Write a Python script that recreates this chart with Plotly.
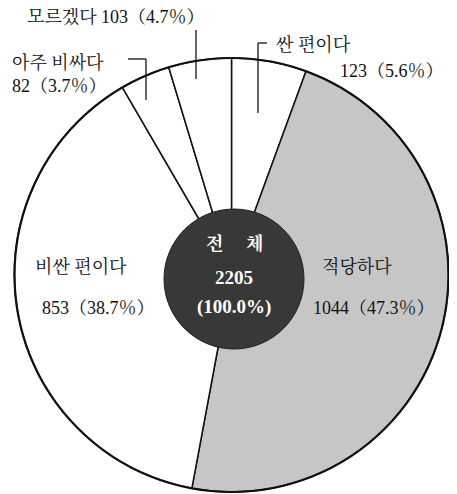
import plotly.graph_objects as go

# Data
categories = ["싼 편이다", "적당하다", "비싼 편이다", "아주 비싸다", "모르겠다"]
counts = [123, 1044, 853, 82, 103]
percents = [5.6, 47.3, 38.7, 3.7, 4.7]
total = 2205
total_pct = 100.0
slice_colors = ["#ffffff", "#c6c6c6", "#ffffff", "#ffffff", "#ffffff"]

# the page body has an 8px margin; work in reference pixel coords and shift
OFF = 8
W, H = 457 - OFF, 494 - OFF
FONT = "Liberation Serif, Noto Serif CJK KR, Noto Sans CJK KR, serif"


def px(x):
    return (x - OFF) / W


def py(y):
    return 1 - (y - OFF) / H


fig = go.Figure()

# main pie: centre (231.5, 275), radius 217 px
fig.add_trace(go.Pie(
    labels=categories,
    values=counts,
    sort=False,
    direction="clockwise",
    rotation=0,
    textinfo="none",
    hoverinfo="none",
    showlegend=False,
    marker=dict(colors=slice_colors, line=dict(color="#111111", width=1.5)),
    domain=dict(x=[px(14.5), px(448.5)], y=[py(492), py(58)]),
))

# dark centre disc
fig.add_trace(go.Pie(
    labels=["전체"],
    values=[total],
    textinfo="none",
    hoverinfo="none",
    showlegend=False,
    marker=dict(colors=["#383838"], line=dict(color="#222222", width=1)),
    domain=dict(x=[px(164), px(304)], y=[py(349), py(209)]),
))

ann = []


def add_text(text, x, y, anchor="left", size=18, color="#111111", bold=False):
    if bold:
        text = f"<b>{text}</b>"
    ann.append(dict(text=text, x=px(x), y=py(y), xref="paper", yref="paper",
                    xanchor=anchor, yanchor="middle", showarrow=False,
                    font=dict(family=FONT, size=size, color=color)))


def lab(i):
    return f"{counts[i]}（{percents[i]}％）"


add_text(f"{categories[4]} {lab(4)}", 25, 16)
add_text(categories[3], 10, 62)
add_text(lab(3), 10, 86)
add_text(categories[0], 274, 44)
add_text(lab(0), 338, 71)
add_text(categories[2], 33, 266)
add_text(lab(2), 40, 308)
add_text(categories[1], 320, 266)
add_text(lab(1), 311, 308)

# centre texts
add_text("전 　체", 234, 243, anchor="center", size=18, color="#ffffff", bold=True)
add_text(str(total), 234, 277, anchor="center", size=19, color="#ffffff", bold=True)
add_text(f"({total_pct}%)", 234, 307, anchor="center", size=19, color="#ffffff", bold=True)

shapes = []


def line(x0, y0, x1, y1):
    shapes.append(dict(type="line", xref="paper", yref="paper",
                       x0=px(x0), y0=py(y0), x1=px(x1), y1=py(y1),
                       line=dict(color="#111111", width=1.3)))


line(196, 30, 196, 79)          # 모르겠다 leader
line(128, 59, 146, 59)          # 아주 비싸다 leader
line(146, 59, 146, 100)
line(258, 43, 267, 43)          # 싼 편이다 leader
line(258, 43, 258, 113)

# thicker outer rim
shapes.append(dict(type="circle", xref="paper", yref="paper", layer="above",
                   x0=px(14.5), x1=px(448.5), y0=py(492), y1=py(58),
                   line=dict(color="#111111", width=2.2)))

fig.update_layout(
    width=W, height=H,
    margin=dict(l=0, r=0, t=0, b=0),
    paper_bgcolor="#ffffff",
    plot_bgcolor="#ffffff",
    annotations=ann,
    shapes=shapes,
)

fig.write_html("out.html")
